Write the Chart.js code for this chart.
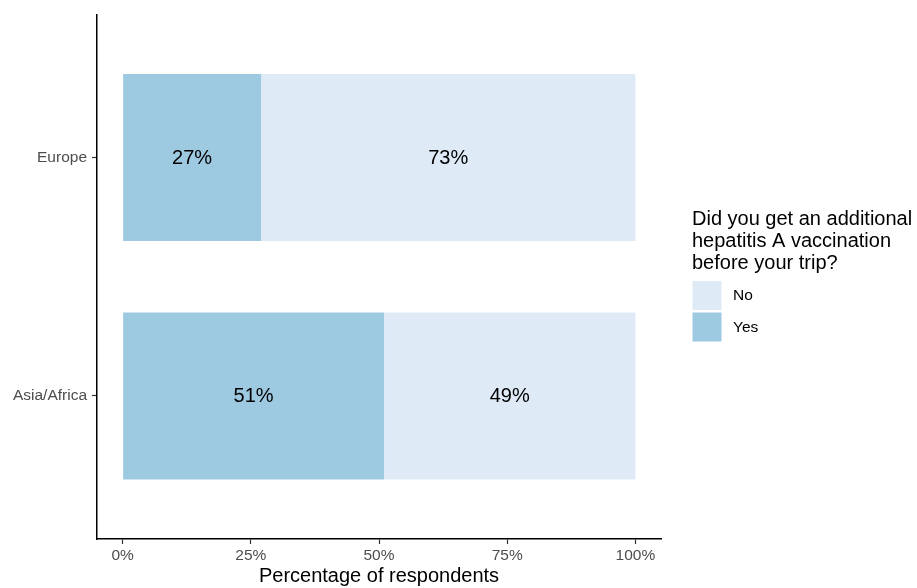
<!DOCTYPE html>
<html>
<head>
<meta charset="utf-8">
<script src="https://cdn.jsdelivr.net/npm/chart.js@4/dist/chart.umd.min.js"></script>
<style>
  html, body { margin: 0; padding: 0; background: #fff; }
  #wrap { width: 917px; height: 588px; }
</style>
</head>
<body>
<div id="wrap"><canvas id="diagram" width="917" height="588"></canvas></div>
<script>
// data
const regions = ['Europe', 'Asia/Africa'];
const yesValues = [27, 51];
const noValues = [73, 49];
const xTicks = [0, 25, 50, 75, 100];
const legendTitle = ['Did you get an additional', 'hepatitis A vaccination', 'before your trip?'];
const legendItems = ['No', 'Yes'];

const yesColor = '#9ECAE1';
const noColor = '#DEEBF7';
const FONT = '"Liberation Sans", Arial, Helvetica, sans-serif';

// labels in the middle of each segment
const barLabels = {
  id: 'barLabels',
  afterDatasetsDraw(chart) {
    const c = chart.ctx;
    c.save();
    c.font = '20px ' + FONT;
    c.fillStyle = '#000';
    c.textAlign = 'center';
    c.textBaseline = 'middle';
    chart.data.datasets.forEach((ds, i) => {
      chart.getDatasetMeta(i).data.forEach((bar, j) => {
        const mid = (bar.x + bar.base) / 2;
        c.fillText(ds.data[j].x + '%', mid, bar.y + 1);
      });
    });
    c.restore();
  }
};

// ggplot-like legend on the right
const sideLegend = {
  id: 'sideLegend',
  afterDraw(chart) {
    const c = chart.ctx;
    const x0 = 692;
    c.save();
    c.font = '20px ' + FONT;
    c.fillStyle = '#000';
    c.textAlign = 'left';
    c.textBaseline = 'middle';
    legendTitle.forEach((line, i) => c.fillText(line, x0, 219 + i * 22));
    const colors = { No: noColor, Yes: yesColor };
    legendItems.forEach((name, i) => {
      const y = 281 + i * 31.5;
      c.fillStyle = colors[name];
      c.fillRect(x0 + 0.5, y, 29, 29);
      c.fillStyle = '#000';
      c.font = '15.5px ' + FONT;
      c.fillText(name, 733, y + 15);
    });
    c.restore();
  }
};

const ctx = document.getElementById('diagram');
new Chart(ctx, {
  type: 'bar',
  data: {
    datasets: [
      {
        label: 'Yes',
        data: regions.map((r, i) => ({ x: yesValues[i], y: i })),
        backgroundColor: yesColor,
        borderWidth: 0
      },
      {
        label: 'No',
        data: regions.map((r, i) => ({ x: noValues[i], y: i })),
        backgroundColor: noColor,
        borderWidth: 0
      }
    ]
  },
  options: {
    indexAxis: 'y',
    responsive: false,
    animation: false,
    devicePixelRatio: 1,
    categoryPercentage: 1,
    barPercentage: 0.7,
    layout: { padding: { left: 0, right: 256, top: 12, bottom: 0 } },
    scales: {
      x: {
        type: 'linear',
        stacked: true,
        min: -5,
        max: 105,
        afterBuildTicks: (s) => { s.ticks = xTicks.map(v => ({ value: v })); },
        afterFit: (s) => { s.height = 49; },
        grid: { display: true, drawOnChartArea: false, drawTicks: true, tickLength: 5, tickColor: '#333', tickWidth: 1.2 },
        border: { display: true, color: '#000', width: 1.5 },
        ticks: {
          color: '#4D4D4D',
          font: { family: FONT, size: 15.5 },
          padding: 2,
          maxRotation: 0,
          callback: (v) => v + '%'
        },
        title: {
          display: true,
          text: 'Percentage of respondents',
          color: '#000',
          font: { family: FONT, size: 20 },
          padding: { top: 0, bottom: 0 }
        }
      },
      y: {
        type: 'linear',
        stacked: true,
        reverse: true,
        offset: false,
        min: -0.6,
        max: 1.6,
        afterBuildTicks: (s) => { s.ticks = regions.map((r, i) => ({ value: i })); },
        afterFit: (s) => { s.width = 97; },
        grid: { display: true, offset: false, drawOnChartArea: false, drawTicks: true, tickLength: 5, tickColor: '#333', tickWidth: 1.2 },
        border: { display: true, color: '#000', width: 1.5 },
        ticks: {
          color: '#4D4D4D',
          font: { family: FONT, size: 15.5 },
          padding: 5,
          callback: (v) => regions[v]
        }
      }
    },
    plugins: {
      legend: { display: false },
      tooltip: { enabled: false }
    }
  },
  plugins: [barLabels, sideLegend]
});
</script>
</body>
</html>
